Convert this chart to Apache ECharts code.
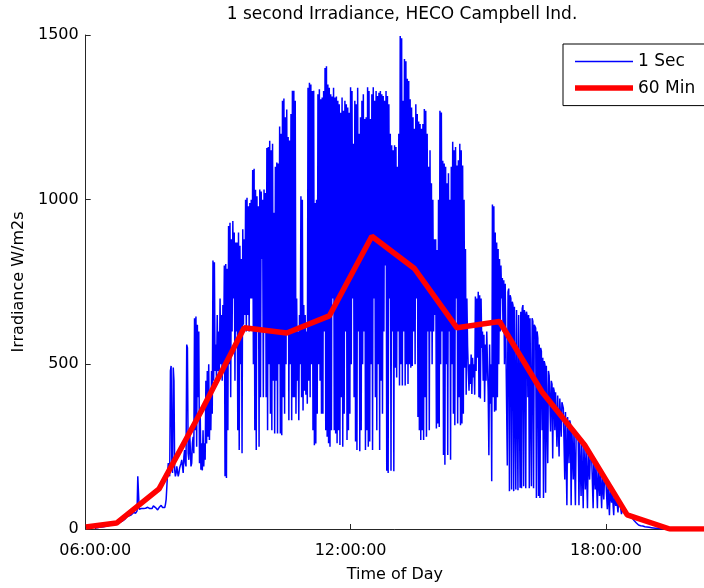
<!DOCTYPE html>
<html>
<head>
<meta charset="utf-8">
<script src="https://cdn.jsdelivr.net/npm/echarts@6/dist/echarts.min.js"></script>
<style>html,body{margin:0;padding:0;background:#fff}#chart{width:704px;height:588px}</style>
</head>
<body>
<div id="chart"></div>
<script>
// 1-second irradiance, sampled once per minute starting 06:00 (W/m2)
const secStartHour = 6;
const secStepMinutes = 1;
const secValues = [
3,3,4,4,5,5,5,6,6,6,7,7,7,8,8,8,9,9,10,10,
10,11,12,12,13,14,15,15,16,17,18,18,19,20,21,22,22,23,24,25,
26,28,30,33,35,38,40,42,40,38,40,43,45,48,50,52,50,48,50,55,
160,165,60,58,60,62,63,60,62,64,65,63,62,64,66,65,63,62,64,66,
62,65,70,72,68,65,62,60,58,62,65,68,70,72,68,65,62,60,65,75,
90,130,170,200,180,160,480,495,200,170,490,450,180,160,170,190,175,160,170,185,
180,200,210,190,170,220,240,200,190,560,550,230,210,300,250,190,200,260,280,230,
640,300,645,250,620,400,600,200,350,180,260,178,300,190,260,210,450,260,480,280,
500,270,420,300,480,350,815,450,810,480,560,450,650,480,600,460,700,500,650,450,
680,500,800,160,805,155,790,300,920,500,930,400,880,600,935,700,900,450,870,600,
870,300,900,240,860,500,820,230,910,620,880,650,1000,600,1006,650,980,600,990,700,
1000,700,1090,500,1094,300,1030,240,1010,600,980,250,1031,400,1025,820,1000,400,1031,600,
1020,400,1157,300,1160,500,1179,350,1150,300,1170,450,960,290,1100,450,1113,290,1110,500,
1222,290,1200,285,1300,400,1307,350,1250,500,1274,600,1190,330,1180,500,1260,330,1331,400,
1331,400,1300,350,700,450,600,330,650,500,1010,400,1000,360,680,420,650,408,600,380,
1340,450,1355,400,1350,500,1330,300,1331,254,990,260,1000,350,1320,500,1335,450,1305,350,
1310,350,1330,600,1400,300,1405,280,1350,260,1340,250,1320,300,1313,700,1340,300,1310,290,
1313,260,1300,300,1290,255,1264,400,1310,250,1270,350,1300,600,1290,270,1280,300,1264,350,
1341,500,1330,700,1170,400,1300,266,1290,240,1340,600,1200,236,1250,300,1300,500,1320,600,
1245,240,1250,300,1341,250,1330,266,1245,500,1320,240,1341,700,1300,400,1330,300,1315,500,
1325,240,1330,450,1320,350,1315,600,1300,800,1330,177,1315,170,1290,700,1200,177,1165,600,
1150,175,1165,490,1160,460,1100,600,1200,436,1497,500,1490,436,1300,600,1427,436,1420,500,
1367,440,1360,500,1305,490,1280,495,1250,600,1215,500,1290,700,1260,340,1237,300,1230,270,
1215,300,1230,270,1275,400,1270,280,1200,600,1100,300,1150,600,1050,500,1000,600,880,650,
880,305,847,320,1000,310,1270,500,1265,600,1118,225,1110,195,1100,500,1050,225,1080,600,
1000,210,1100,500,1176,350,1150,315,1160,700,1104,320,1120,400,1170,315,1150,320,1104,350,
1000,490,850,408,700,555,480,420,500,440,530,410,520,460,500,408,706,480,700,520,
720,400,710,396,700,550,600,450,590,386,560,450,600,500,420,224,560,380,500,145,
985,400,980,356,900,360,870,400,850,500,820,600,800,700,762,600,755,500,745,740,
740,193,720,730,115,710,700,120,690,680,115,675,670,120,665,660,118,650,655,125,
660,124,670,680,130,665,650,124,660,645,400,650,124,640,635,130,640,630,124,620,
617,610,94,600,580,100,560,94,550,540,300,520,94,510,500,110,496,490,200,480,
466,460,296,450,440,214,430,420,300,415,410,250,405,400,220,396,390,280,385,380,
366,360,150,355,350,72,340,335,200,330,320,72,310,305,150,300,295,72,290,284,
284,280,72,275,270,100,266,260,63,255,250,120,245,240,63,235,230,150,225,220,
215,210,63,205,200,120,195,190,63,185,180,100,175,170,63,165,160,90,155,150,
145,140,60,135,130,42,125,120,80,115,110,42,105,100,70,95,90,50,85,80,
75,70,45,65,60,50,55,50,54,52,48,45,42,40,38,36,35,33,30,28,
25,22,20,18,16,14,12,12,11,10,10,9,9,8,8,7,7,6,6,5,
5,5,4,4,4,3,3,3,3,2,2,2,2,2,1,1,1,1,1,1,
1,1,1,1,1,0,0,0,0,0,0,0,0,0,0,0,0,0,0,0
];

// 60-minute averages (hour of day, W/m2)
const hourTimes = [5.78, 6.5, 7.5, 8.5, 9.5, 10.5, 11.5, 12.5, 13.5, 14.5, 15.5, 16.5, 17.5, 18.5, 19.5, 20.5];
const hourValues = [6, 18, 122, 360, 611, 595, 647, 889, 791, 611, 630, 416, 255, 43, 0, 0];

// axis ticks
const xTickHours = [6, 12, 18];

const secData = secValues.map((v, i) => [secStartHour + i * secStepMinutes / 60, v]);
const hourData = hourTimes.map((t, i) => [t, hourValues[i]]);

function fmtHour(h) {
  const hh = Math.round(h);
  return (hh < 10 ? '0' : '') + hh + ':00:00';
}

const FONT = 'DejaVu Sans';
const chart = echarts.init(document.getElementById('chart'), null, {renderer: 'canvas'});
chart.setOption({
  animation: false,
  backgroundColor: '#fff',
  textStyle: {fontFamily: FONT},
  title: {
    text: '1 second Irradiance, HECO Campbell Ind.',
    left: 397, top: 1, textAlign: 'center',
    textStyle: {fontFamily: FONT, fontSize: 17, fontWeight: 'normal', color: '#000'}
  },
  legend: {
    orient: 'vertical',
    left: 563, top: 44,
    padding: [9, 18, 9, 12],
    itemWidth: 58, itemHeight: 17, itemGap: 9.6,
    borderColor: '#000', borderWidth: 1, borderRadius: 0,
    backgroundColor: '#fff',
    symbolKeepAspect: true,
    itemStyle: {borderWidth: 0},
    textStyle: {fontFamily: FONT, fontSize: 17, color: '#000'},
    data: [
      {name: '1 Sec', icon: 'path://M0,0L58,0L58,1.3L0,1.3Z',
        itemStyle: {color: '#0000ff', borderColor: '#0000ff', borderWidth: 0}},
      {name: '60 Min', icon: 'path://M0,0L58,0L58,5.5L0,5.5Z',
        itemStyle: {color: '#ff0000', borderColor: '#ff0000', borderWidth: 0}}
    ]
  },
  grid: {left: 85.7, right: -4, top: 35, bottom: 57, containLabel: false},
  xAxis: {
    type: 'value', min: 5.776, max: 20.305,
    name: 'Time of Day', nameLocation: 'middle', nameGap: 38,
    nameTextStyle: {fontFamily: FONT, fontSize: 16, color: '#000'},
    axisLine: {show: true, onZero: false, lineStyle: {color: '#262626', width: 1}},
    axisTick: {show: true, inside: true, length: 5, customValues: xTickHours, lineStyle: {color: '#262626'}},
    axisLabel: {customValues: xTickHours, formatter: fmtHour, fontFamily: FONT, fontSize: 16, color: '#000', margin: 14},
    splitLine: {show: false}
  },
  yAxis: {
    type: 'value', min: 0, max: 1500, interval: 500,
    name: 'Irradiance W/m2s', nameLocation: 'middle', nameGap: 52,
    nameTextStyle: {fontFamily: FONT, fontSize: 16, color: '#000'},
    axisLine: {show: true, lineStyle: {color: '#262626', width: 1}},
    axisTick: {show: true, inside: true, length: 5, lineStyle: {color: '#262626'}},
    axisLabel: {fontFamily: FONT, fontSize: 16, color: '#000', margin: 7,
      formatter: function (v) { return String(v); }},
    splitLine: {show: false}
  },
  series: [
    {
      name: '1 Sec', type: 'line', data: secData, showSymbol: false, symbol: 'none',
      lineStyle: {color: '#0000ff', width: 1.5}, itemStyle: {color: '#0000ff'},
      z: 2, clip: true
    },
    {
      name: '60 Min', type: 'line', data: hourData, showSymbol: false, symbol: 'none',
      lineStyle: {color: '#ff0000', width: 5.5}, itemStyle: {color: '#ff0000'},
      z: 3, clip: true
    }
  ]
});
</script>
</body>
</html>
